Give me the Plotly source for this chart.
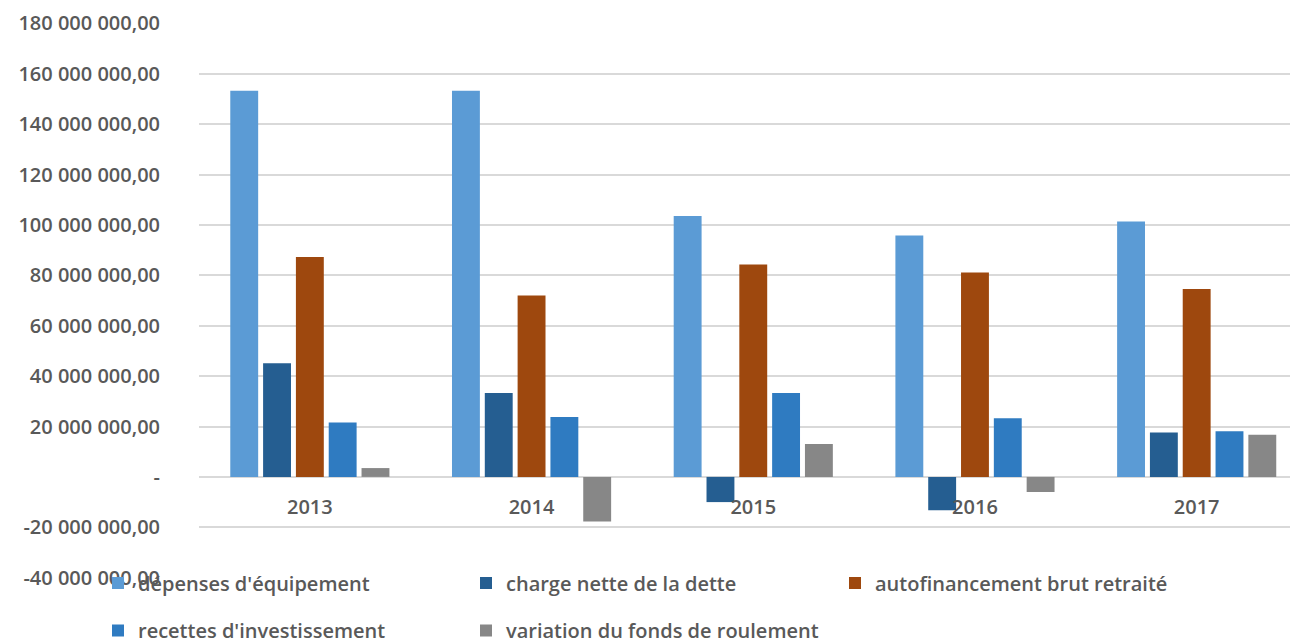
import plotly.graph_objects as go

years = ["2013", "2014", "2015", "2016", "2017"]
depenses_equipement = [153.2e6, 153.2e6, 103.5e6, 95.8e6, 101.3e6]
charge_nette_dette = [45.1e6, 33.3e6, -10.0e6, -13.2e6, 17.6e6]
autofinancement_brut = [87.3e6, 72.0e6, 84.3e6, 81.1e6, 74.6e6]
recettes_investissement = [21.6e6, 23.8e6, 33.3e6, 23.3e6, 18.1e6]
variation_fonds_roulement = [3.5e6, -17.7e6, 13.1e6, -6.0e6, 16.7e6]

series_names = [
    "dépenses d'équipement",
    "charge nette de la dette",
    "autofinancement brut retraité",
    "recettes d'investissement",
    "variation du fonds de roulement",
]
series_values = [depenses_equipement, charge_nette_dette, autofinancement_brut,
                 recettes_investissement, variation_fonds_roulement]
colors = ["#5B9BD5", "#255E91", "#9E480E", "#2F7BC1", "#878787"]
legend_ids = ["legend", "legend2", "legend3", "legend4", "legend5"]

tick_vals = [v * 1e6 for v in range(-40, 181, 20)]
tick_text = []
for v in tick_vals:
    m = int(round(v / 1e6))
    tick_text.append("-" if m == 0 else f"{m} 000 000,00")

fig = go.Figure()
for name, vals, col, lg in zip(series_names, series_values, colors, legend_ids):
    fig.add_trace(go.Bar(x=years, y=vals, name=name, marker_color=col,
                         marker_line_width=0, legend=lg))

# page body has an 8px margin: figure coords = screen coords - 8
W, H = 1290, 633
OFF = 8
top_s, bottom_s = 23.0, 577.6
font_col = "#595959"
FONT = "Open Sans, Liberation Sans, Arial, sans-serif"


def leg(x_screen, y_screen):
    return dict(orientation="h", xref="container", yref="container",
                xanchor="left", yanchor="middle",
                x=(x_screen - OFF) / W, y=1 - (y_screen - OFF) / H,
                itemwidth=30, bgcolor="rgba(0,0,0,0)",
                font=dict(family=FONT, size=20, color=font_col, weight=600))


col_x = [98, 466, 835]
row_y = [583, 630.5]
fig.update_layout(
    width=W, height=H,
    margin=dict(l=199 - OFF, r=0, t=top_s - OFF, b=H - (bottom_s - OFF), pad=0,
                autoexpand=False),
    paper_bgcolor="white", plot_bgcolor="white",
    barmode="group", bargap=0.26, bargroupgap=0.15,
    font=dict(family=FONT, size=20, color=font_col, weight=600),
    legend=leg(col_x[0], row_y[0]),
    legend2=leg(col_x[1], row_y[0]),
    legend3=leg(col_x[2], row_y[0]),
    legend4=leg(col_x[0], row_y[1]),
    legend5=leg(col_x[1], row_y[1]),
    showlegend=True,
)
fig.update_yaxes(range=[-40.12e6, 180.12e6], tickvals=tick_vals, ticktext=tick_text,
                 showgrid=True, gridcolor="#D9D9D9", gridwidth=2,
                 zeroline=True, zerolinecolor="#D9D9D9", zerolinewidth=2,
                 showline=False, ticks="", ticklabelstandoff=38,
                 tickfont=dict(family=FONT, size=20, color=font_col, weight=600))
fig.update_xaxes(range=[-0.5, 4.457], anchor="free", position=40.12 / 220.24,
                 showgrid=False, showline=False, zeroline=False, ticks="",
                 ticklabelstandoff=16,
                 tickfont=dict(family=FONT, size=20, color=font_col, weight=600))

fig.write_html("out.html")
